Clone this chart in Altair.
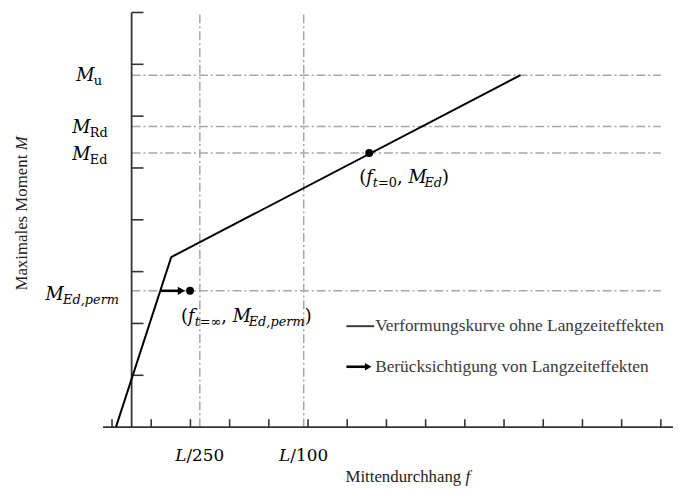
import altair as alt
import pandas as pd

# ---------------- values ----------------
curve_f = [-0.40, 1.01, 9.92]          # Mittendurchhang f (in tick units)
curve_M = [0.00, 3.28, 6.79]           # Maximales Moment M (in tick units)

level_subs = ["u", "Rd", "Ed", "Ed,perm"]
level_M = [6.79, 5.80, 5.29, 2.63]

limit_rest = ["/250", "/100"]
limit_f = [1.74, 4.39]

point_f = [6.06, 1.49]
point_M = [5.29, 2.63]

arrow_f = [0.73, 1.27]
arrow_M = [2.63, 2.63]

x_ticks = [-0.5, 0.5, 1.5, 2.5, 3.5, 4.5, 5.5, 6.5, 7.5, 8.5, 9.5, 10.5, 11.5, 12.5, 13.5]
y_ticks = [1, 2, 3, 4, 5, 6, 7, 8]

x_title = "Mittendurchhang "
y_title = "Maximales Moment "
legend_texts = ["Verformungskurve ohne Langzeiteffekten",
                "Berücksichtigung von Langzeiteffekten"]

# ---------------- geometry ----------------
W, H = 576, 419
X_DOM = [-0.73, 13.81]
Y_DOM = [0, 8]
PX_X = W / (X_DOM[1] - X_DOM[0])
PX_Y = H / (Y_DOM[1] - Y_DOM[0])
OX, OY = 104, 10          # absolute page position of the plot origin
GRID_END = 13.5

MATH = "DejaVu Serif"
TEXT = "Liberation Serif"

xs = alt.Scale(domain=X_DOM, nice=False, zero=False)
ys = alt.Scale(domain=Y_DOM, nice=False, zero=False)


def vx(a):
    return a - OX


def vy(a):
    return a - OY


DV = {'(': .39, ')': .39, ',': .32, ' ': .32, '/': .34, '0': .64, '1': .64,
      '2': .64, '5': .64, '=': .84, '∞': .83, 'M': .90, 'E': .73, 'R': .77,
      'L': .67, 'd': .64, 'u': .64, 'f': .37, 't': .40, 'p': .64, 'e': .59,
      'r': .48, 'm': .95}
TM = {' ': .25, 'M': .889, 'a': .444, 'x': .5, 'i': .278, 'm': .778, 'l': .278,
      'e': .444, 's': .389, 'o': .5, 'n': .5, 't': .278, 'd': .5, 'u': .5,
      'r': .333, 'c': .444, 'h': .5, 'g': .5}


def tw(s, size, table):
    return sum(table.get(c, 0.55) for c in s) * size


def one():
    return pd.DataFrame({"k": [0]})


layers = []

# dash-dot reference lines
layers.append(
    alt.Chart(pd.DataFrame({"M": level_M, "f0": [0.0] * 4, "f1": [GRID_END] * 4}))
    .mark_rule(color="#a6a6a6", strokeWidth=1.5, strokeDash=[9, 3, 2, 3])
    .encode(x=alt.X("f0:Q", scale=xs, axis=None), x2="f1:Q",
            y=alt.Y("M:Q", scale=ys, axis=None))
)
layers.append(
    alt.Chart(pd.DataFrame({"f": limit_f, "M0": [0.0] * 2, "M1": [8.0] * 2}))
    .mark_rule(color="#a6a6a6", strokeWidth=1.5, strokeDash=[9, 3, 2, 3])
    .encode(x=alt.X("f:Q", scale=xs, axis=None),
            y=alt.Y("M0:Q", scale=ys, axis=None), y2="M1:Q")
)

# axes lines
AX = "#333333"
layers.append(
    alt.Chart(pd.DataFrame({"f0": [X_DOM[0]], "f1": [X_DOM[1]], "M": [0.0]}))
    .mark_rule(color=AX, strokeWidth=1.8)
    .encode(x=alt.X("f0:Q", scale=xs, axis=None), x2="f1:Q",
            y=alt.Y("M:Q", scale=ys, axis=None))
)
layers.append(
    alt.Chart(pd.DataFrame({"f": [0.0], "M0": [0.0], "M1": [8.0]}))
    .mark_rule(color=AX, strokeWidth=1.8)
    .encode(x=alt.X("f:Q", scale=xs, axis=None),
            y=alt.Y("M0:Q", scale=ys, axis=None), y2="M1:Q")
)
# ticks (pointing inwards)
XT = 8 / PX_Y
YT = 12 / PX_X
layers.append(
    alt.Chart(pd.DataFrame({"f": x_ticks, "M0": [0.0] * len(x_ticks), "M1": [XT] * len(x_ticks)}))
    .mark_rule(color=AX, strokeWidth=1.6)
    .encode(x=alt.X("f:Q", scale=xs, axis=None),
            y=alt.Y("M0:Q", scale=ys, axis=None), y2="M1:Q")
)
layers.append(
    alt.Chart(pd.DataFrame({"M": y_ticks, "f0": [0.0] * len(y_ticks), "f1": [YT] * len(y_ticks)}))
    .mark_rule(color=AX, strokeWidth=1.6)
    .encode(x=alt.X("f0:Q", scale=xs, axis=None), x2="f1:Q",
            y=alt.Y("M:Q", scale=ys, axis=None))
)

# deformation curve
layers.append(
    alt.Chart(pd.DataFrame({"f": curve_f, "M": curve_M, "o": [0, 1, 2]}))
    .mark_line(color="black", strokeWidth=2)
    .encode(x=alt.X("f:Q", scale=xs, axis=None),
            y=alt.Y("M:Q", scale=ys, axis=None), order="o:Q")
)

# long-term arrow
layers.append(
    alt.Chart(pd.DataFrame({"f0": [arrow_f[0]], "f1": [arrow_f[1]], "M": [arrow_M[0]]}))
    .mark_rule(color="black", strokeWidth=2.6)
    .encode(x=alt.X("f0:Q", scale=xs, axis=None), x2="f1:Q",
            y=alt.Y("M:Q", scale=ys, axis=None))
)
layers.append(
    alt.Chart(pd.DataFrame({"f": [arrow_f[1]], "M": [arrow_M[1]]}))
    .mark_point(shape="triangle-right", size=70, filled=True, color="black", opacity=1)
    .encode(x=alt.X("f:Q", scale=xs, axis=None), y=alt.Y("M:Q", scale=ys, axis=None))
)

# points
layers.append(
    alt.Chart(pd.DataFrame({"f": point_f, "M": point_M}))
    .mark_circle(size=64, color="black", opacity=1)
    .encode(x=alt.X("f:Q", scale=xs, axis=None), y=alt.Y("M:Q", scale=ys, axis=None))
)

# ---------------- text helpers ----------------
def piece_data(text, f, M, dx, dy, size, italic, font=MATH, color="black"):
    return (
        alt.Chart(pd.DataFrame({"f": [f], "M": [M]}))
        .mark_text(text=text, align="left", baseline="alphabetic", dx=dx, dy=dy,
                   font=font, fontSize=size, fontStyle="italic" if italic else "normal",
                   color=color)
        .encode(x=alt.X("f:Q", scale=xs, axis=None), y=alt.Y("M:Q", scale=ys, axis=None))
    )


def piece_px(text, x, y, size, italic, font=MATH, color="black", align="left",
             baseline="alphabetic", angle=0):
    return (
        alt.Chart(one())
        .mark_text(text=text, align=align, baseline=baseline, angle=angle,
                   font=font, fontSize=size, fontStyle="italic" if italic else "normal",
                   color=color)
        .encode(x=alt.value(x), y=alt.value(y))
    )


MAIN, SUB, SUBDY = 18, 13, 4

# level labels M_u, M_Rd, M_Ed, M_Ed,perm
lab_x = [77, 73, 73, 46]
lab_dy = [6, 7, 7, 9]
for sub, M, xa, dy in zip(level_subs, level_M, lab_x, lab_dy):
    xm = vx(xa)
    layers.append(
        alt.Chart(pd.DataFrame({"M": [M]}))
        .mark_text(text="M", align="left", baseline="alphabetic", dy=dy, font=MATH,
                   fontSize=MAIN, fontStyle="italic")
        .encode(x=alt.value(xm), y=alt.Y("M:Q", scale=ys, axis=None))
    )
    layers.append(
        alt.Chart(pd.DataFrame({"M": [M]}))
        .mark_text(text=sub, align="left", baseline="alphabetic", dy=dy + SUBDY, font=MATH,
                   fontSize=SUB, fontStyle="italic" if "," in sub else "normal")
        .encode(x=alt.value(xm + tw("M", MAIN, DV) + 1.5), y=alt.Y("M:Q", scale=ys, axis=None))
    )

# x labels L/250, L/100
for rest, f in zip(limit_rest, limit_f):
    total = tw("L", 17, DV) + tw(rest, 17, DV)
    x0 = f * PX_X + (0 - X_DOM[0]) * PX_X - total / 2
    layers.append(piece_px("L", x0, vy(463), 17, True))
    layers.append(piece_px(rest, x0 + tw("L", 17, DV), vy(463), 17, False))

# point annotations
ann = [
    [("(", MAIN, False, 0), ("f", MAIN, True, 0), ("t", SUB, True, SUBDY),
     ("=", SUB, False, SUBDY), ("0", SUB, False, SUBDY), (", ", MAIN, False, 0),
     ("M", MAIN, True, 0), ("Ed", SUB, True, SUBDY), (")", MAIN, False, 0)],
    [("(", MAIN, False, 0), ("f", MAIN, True, 0), ("t", SUB, True, SUBDY),
     ("=", SUB, False, SUBDY), ("∞", SUB, False, SUBDY), (", ", MAIN, False, 0),
     ("M", MAIN, True, 0), ("Ed,perm", SUB, True, SUBDY), (")", MAIN, False, 0)],
]
ann_off = [(-10, 30), (-9, 32)]
for pieces, f, M, (dx0, dy0) in zip(ann, point_f, point_M, ann_off):
    dx = dx0
    for text, size, italic, sdy in pieces:
        layers.append(piece_data(text, f, M, dx, dy0 + sdy, size, italic))
        dx += tw(text, size, DV)

# axis titles
TS = 17
layers.append(piece_px(x_title, vx(349), vy(484), TS, False, font=TEXT, color="#222222"))
layers.append(piece_px("f", vx(349) + tw(x_title, TS, TM), vy(484), TS, True,
                       font=TEXT, color="#222222"))
layers.append(piece_px(y_title, vx(22), vy(291), TS, False, font=TEXT, color="#222222",
                       baseline="middle", angle=270))
layers.append(piece_px("M", vx(22), vy(291) - tw(y_title, TS, TM), TS, True, font=TEXT,
                       color="#222222", baseline="middle", angle=270))

# legend
LEG = "#3a3a3a"
LS = 17.5
layers.append(
    alt.Chart(one()).mark_rule(color=LEG, strokeWidth=2)
    .encode(x=alt.value(vx(350)), x2=alt.value(vx(378)), y=alt.value(vy(327)))
)
layers.append(
    alt.Chart(one()).mark_rule(color="black", strokeWidth=2.6)
    .encode(x=alt.value(vx(350)), x2=alt.value(vx(371)), y=alt.value(vy(368)))
)
layers.append(
    alt.Chart(one()).mark_point(shape="triangle-right", size=60, filled=True,
                                color="black", opacity=1)
    .encode(x=alt.value(vx(372)), y=alt.value(vy(368)))
)
layers.append(piece_px(legend_texts[0], vx(379), vy(327), LS, False, font=TEXT,
                       color=LEG, baseline="middle"))
layers.append(piece_px(legend_texts[1], vx(379), vy(368), LS, False, font=TEXT,
                       color=LEG, baseline="middle"))

chart = (
    alt.layer(*layers)
    .properties(width=W, height=H,
                padding={"left": 96, "top": 2, "right": 0, "bottom": 60},
                autosize=alt.AutoSizeParams(type="none"))
    .configure_view(stroke=None)
)

chart.save("out.html", embed_options={"renderer": "svg", "actions": False})
